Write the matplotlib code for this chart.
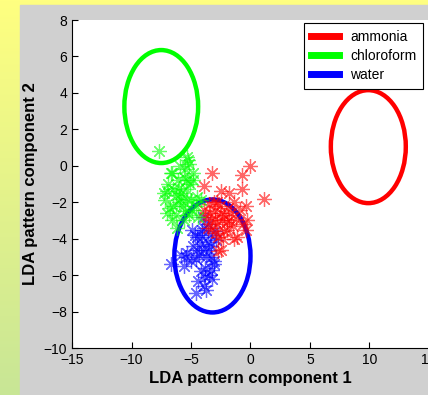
import matplotlib
matplotlib.use('Agg')
import matplotlib.pyplot as plt
import numpy as np
from matplotlib.patches import Ellipse, Rectangle
from matplotlib.lines import Line2D

plt.rcParams['font.family'] = ['Liberation Sans', 'DejaVu Sans']

# class names and colours
classes = ["ammonia", "chloroform", "water"]
colors = ["#ff0000", "#00ff00", "#0000ff"]

# confidence ellipses: centre x, centre y, semi-axis x, semi-axis y
ell_cx = [9.9, -7.5, -3.2]
ell_cy = [1.05, 3.25, -4.95]
ell_rx = [3.15, 3.1, 3.2]
ell_ry = [3.1, 3.1, 3.1]

# LDA scores
ammonia_x = [0.0, -0.7, -3.2, -0.7, 1.1, -2.5, -1.8, -3.9, -0.4, -0.3, -1.4, -0.4,
             -1.1, -2.5, -2.0, -2.7, -3.5, -3.0, -2.6, -2.2, -3.8, -3.3, -2.8, -1.6,
             -2.4, -3.6, -1.9, -3.1, -2.0, -1.2, -3.4, -2.9, -0.9, -2.3, -3.9, -1.5,
             -2.8, -3.2, -2.5, -1.8, -3.0, -2.2, -1.4, -0.6, -2.7]
ammonia_y = [0.0, -0.5, -0.4, -1.3, -1.8, -1.4, -1.5, -1.1, -2.2, -3.0, -2.0, -3.5,
             -3.9, -4.6, -3.5, -4.7, -2.1, -2.5, -2.2, -2.7, -2.8, -3.0, -3.2, -2.6,
             -3.0, -3.4, -2.3, -2.0, -3.1, -2.9, -2.6, -3.7, -2.4, -4.0, -2.4, -3.3,
             -2.0, -3.4, -2.6, -3.0, -2.9, -3.6, -4.0, -3.2, -3.9]

chloroform_x = [-7.7, -6.6, -5.9, -5.25, -5.3, -5.2, -5.6, -6.7, -7.0, -6.0, -6.5, -6.5,
                -7.2, -5.3, -5.1, -4.8, -5.5, -7.3, -5.3, -4.8, -4.5, -7.0, -6.2, -4.9,
                -5.6, -6.0, -5.8, -6.3, -5.0, -5.7, -6.8, -4.6, -5.4, -6.1, -4.4, -6.6,
                -5.9, -6.3, -5.2, -4.2, -6.9, -5.5]
chloroform_y = [0.8, -0.4, 0.0, 0.3, 0.5, 0.1, -0.6, -0.4, -1.4, -1.2, -1.3, -2.2,
                -1.9, -1.8, -1.0, -0.4, -2.5, -1.5, -0.8, -0.8, -1.7, -2.6, -3.4, -2.4,
                -3.0, -2.0, -1.5, -2.7, -1.9, -2.2, -2.3, -2.2, -1.3, -0.8, -2.8, -3.0,
                -1.8, -1.6, -2.7, -1.9, -1.0, -0.2]

water_x = [-4.4, -3.9, -4.6, -3.7, -6.7, -5.6, -5.3, -4.2, -3.5, -3.2, -3.1, -4.5,
           -4.9, -4.1, -3.4, -3.2, -5.8, -3.1, -3.9, -4.0, -3.7, -4.6, -3.6, -5.0,
           -4.3, -3.3, -4.8, -3.8, -3.0, -4.2, -5.4, -3.5, -3.6, -4.7,
           -4.0, -3.3, -4.5, -3.8, -2.9, -4.1]
water_y = [-6.3, -6.6, -7.0, -6.8, -5.4, -5.5, -4.8, -4.3, -4.6, -5.7, -5.4, -3.9,
           -3.5, -3.5, -3.8, -6.2, -4.9, -5.2, -3.4, -2.8, -5.0, -5.1, -4.2, -5.2,
           -4.9, -4.4, -4.4, -5.6, -3.6, -5.8, -5.0, -6.0, -3.2, -3.8,
           -4.6, -5.0, -4.6, -6.1, -4.1, -3.9]

xticks = [-15, -10, -5, 0, 5, 10, 15]
yticks = [-10, -8, -6, -4, -2, 0, 2, 4, 6, 8]

fig = plt.figure(figsize=(4.28, 3.95), dpi=100)

# slide-style background gradient + grey figure panel
bg = fig.add_axes([0, 0, 1, 1], zorder=-10)
grad = np.linspace(0, 1, 256)[:, None]
top = np.array([255, 255, 128]) / 255.0
bot = np.array([200, 230, 150]) / 255.0
img = top[None, None, :] * (1 - grad[:, :, None]) + bot[None, None, :] * grad[:, :, None]
bg.imshow(img, aspect='auto', extent=[0, 1, 0, 1])
bg.add_patch(Rectangle((20 / 428, 0), 408 / 428, 390 / 395, color='#d0d0d0'))
bg.set_xlim(0, 1)
bg.set_ylim(0, 1)
bg.axis('off')

ax = fig.add_axes([72 / 428, 47 / 395, 357 / 428, 328 / 395])
ax.set_facecolor('white')

for i in range(3):
	ax.add_patch(Ellipse((ell_cx[i], ell_cy[i]), 2 * ell_rx[i], 2 * ell_ry[i],
	                     fill=False, edgecolor=colors[i], lw=3.2, zorder=2))

star = (8, 2, 0)
ax.plot(water_x, water_y, linestyle='none', marker=star, ms=10.5, mew=0.9,
        color=colors[2], alpha=0.6, zorder=3)
ax.plot(ammonia_x, ammonia_y, linestyle='none', marker=star, ms=10.5, mew=0.9,
        color=colors[0], alpha=0.6, zorder=4)
ax.plot(chloroform_x, chloroform_y, linestyle='none', marker=star, ms=10.5, mew=0.9,
        color=colors[1], alpha=0.6, zorder=5)

ax.set_xlim(-15, 15)
ax.set_ylim(-10, 8)
ax.set_xticks(xticks)
ax.set_yticks(yticks)
ax.tick_params(direction='in', length=4, labelsize=10, width=0.8)
for s in ['top', 'right']:
	ax.spines[s].set_visible(False)
for s in ['left', 'bottom']:
	ax.spines[s].set_linewidth(0.8)

ax.set_xlabel("LDA pattern component 1", fontsize=12, fontweight='bold', labelpad=3)
ax.set_ylabel("LDA pattern component 2", fontsize=12, fontweight='bold', labelpad=4)

handles = [Line2D([0], [0], color=c, lw=5) for c in colors]
leg = ax.legend(handles, classes, loc='upper right', bbox_to_anchor=(0.984, 0.992),
                borderaxespad=0, fontsize=10, frameon=True, fancybox=False,
                handlelength=2.0, handletextpad=0.8, labelspacing=0.38,
                borderpad=0.5, edgecolor='black', framealpha=1)
leg.get_frame().set_linewidth(0.8)

fig.savefig("out.png", dpi=100)
